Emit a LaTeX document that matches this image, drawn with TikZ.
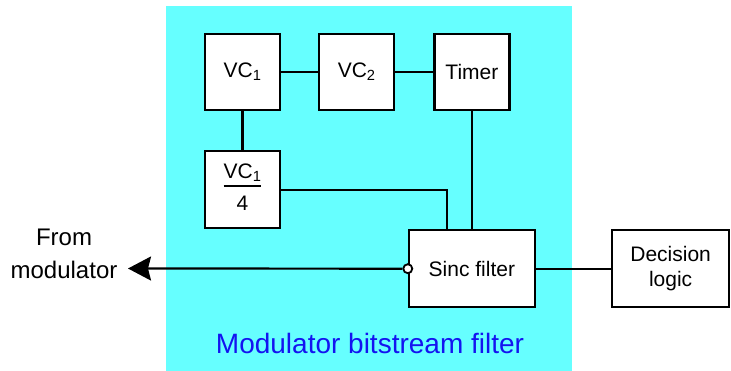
\documentclass[tikz,border=0pt]{standalone}
\usepackage{fontspec}
\setmainfont{Liberation Sans}
\usepackage{xcolor}
\usepackage{tikz}
\usetikzlibrary{arrows.meta, positioning}
\definecolor{mbcyan}{RGB}{102,255,255}
\definecolor{mbblue}{RGB}{20,20,240}
\tikzset{
  blk/.style     = {rectangle, draw=black, line width=2.2pt, fill=white,
                    align=center, minimum width=75pt, minimum height=76pt,
                    inner sep=2pt, font=\fontsize{21}{25}\selectfont},
  wide/.style    = {blk, minimum width=126pt, minimum height=77pt},
  wire/.style    = {line width=2.2pt, draw=black},
  outflow/.style = {wire, -{Stealth[length=23pt, width=24pt, inset=3pt]}},
  port/.style    = {circle, draw=black, line width=1.8pt, fill=white,
                    minimum size=9pt, inner sep=0pt},
  bigtext/.style = {font=\fontsize{24}{33}\selectfont, align=center},
}
\setlength{\arrayrulewidth}{1.6pt}

\begin{document}
\begin{tikzpicture}[x=1pt, y=-1pt]
  \useasboundingbox (0,0) rectangle (731,371);
  \fill[mbcyan] (166,6) rectangle (572,371);

  \node[blk] (vc1) at (242.5,72) {VC\textsubscript{1}};
  \node[blk, right=37pt of vc1] (vc2) {VC\textsubscript{2}};
  \node[blk, right=38pt of vc2] (timer) {Timer};
  \node[blk, below=39pt of vc1, minimum height=77pt] (quarter)
    {\begin{tabular}{@{}c@{}}VC\textsubscript{1}\\[-1pt]\hline\rule{0pt}{24pt}4\end{tabular}};
  \node[wide, below=118pt of timer] (sinc) {Sinc filter};
  \node[wide, right=75pt of sinc, minimum width=117pt] (decision) {Decision\\logic};
  \node[port] (in) at (sinc.west) {};
  \coordinate (out) at (128,268.5);

  \node[bigtext] (from) at (64,253.5) {From\\modulator};
  \node[font=\fontsize{28}{32}\selectfont, text=mbblue] (title) at (370,343)
    {Modulator bitstream filter};

  \draw[wire] (vc1) -- (vc2);
  \draw[wire] (vc2) -- (timer);
  \draw[wire] (vc1) -- (quarter);
  \draw[wire] (quarter.east) -| ([xshift=-25pt]sinc.north);
  \draw[wire] (timer) -- (sinc);
  \draw[wire] (sinc) -- (decision);
  \draw[outflow] (in) -- (out);
\end{tikzpicture}
\end{document}
